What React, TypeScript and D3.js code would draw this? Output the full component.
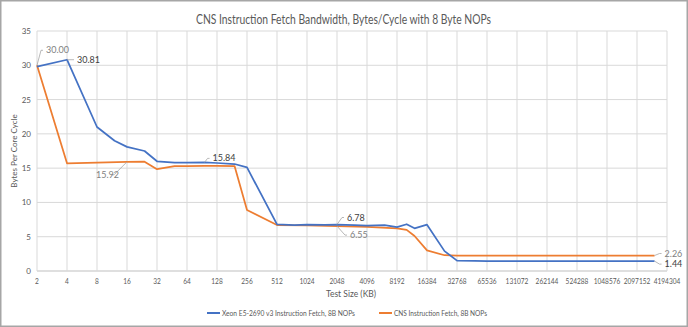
import React from "react";
import * as d3 from "d3";

const TITLE = "CNS Instruction Fetch Bandwidth, Bytes/Cycle with 8 Byte NOPs";
const X_TITLE = "Test Size (KB)";
const Y_TITLE = "Bytes Per Core Cycle";
const SERIES_NAMES = ["Xeon E5-2690 v3 Instruction Fetch, 8B NOPs", "CNS Instruction Fetch, 8B NOPs"];

const X_TICKS = [2, 4, 8, 16, 32, 64, 128, 256, 512, 1024, 2048, 4096, 8192, 16384, 32768, 65536, 131072, 262144, 524288, 1048576, 2097152, 4194304];
const Y_TICKS = [0, 5, 10, 15, 20, 25, 30, 35];

const XEON_X = [2, 4, 8, 12, 16, 24, 32, 48, 64, 96, 128, 192, 256, 512, 768, 1024, 1536, 2048, 3072, 4096, 6144, 8192, 10240, 12288, 16384, 24576, 32768, 49152, 65536, 131072, 262144, 524288, 1048576, 2097152, 3145728];
const XEON_Y = [29.8, 30.81, 21.0, 19.0, 18.1, 17.5, 16.0, 15.8, 15.8, 15.84, 15.75, 15.6, 15.1, 6.8, 6.7, 6.75, 6.72, 6.78, 6.7, 6.6, 6.68, 6.4, 6.82, 6.22, 6.75, 2.9, 1.52, 1.46, 1.44, 1.44, 1.44, 1.44, 1.44, 1.44, 1.44];

const CNS_X = [2, 4, 8, 16, 24, 32, 48, 64, 96, 128, 192, 256, 512, 1024, 2048, 4096, 8192, 10240, 12288, 16384, 24576, 32768, 65536, 131072, 262144, 524288, 1048576, 2097152, 3145728];
const CNS_Y = [30.0, 15.7, 15.82, 15.92, 15.95, 14.85, 15.3, 15.3, 15.32, 15.32, 15.3, 8.9, 6.7, 6.65, 6.55, 6.45, 6.22, 6.0, 5.1, 3.0, 2.3, 2.26, 2.26, 2.26, 2.26, 2.26, 2.26, 2.26, 2.26];

const W = 688, H = 327;
const M = { left: 37, right: 667, top: 31, bottom: 271 };
const BLUE = "#4472c4";
const ORANGE = "#ed7d31";
const FONT = "Lato, 'Open Sans', 'Liberation Sans', sans-serif";

export default function App() {
  const x = d3.scaleLog().base(2).domain([2, 4194304]).range([M.left, M.right]);
  const y = d3.scaleLinear().domain([0, 35]).range([M.bottom, M.top]);
  const line = d3.line<[number, number]>().x((d) => x(d[0])).y((d) => y(d[1]));
  const xeon = XEON_X.map((v, i) => [v, XEON_Y[i]] as [number, number]);
  const cns = CNS_X.map((v, i) => [v, CNS_Y[i]] as [number, number]);

  const labels = [
    { xv: 2, yv: 30.0, text: "30.00", dx: 9, dy: -15, color: "#7f7f7f" },
    { xv: 4, yv: 30.81, text: "30.81", dx: 10, dy: 0, color: "#404040" },
    { xv: 16, yv: 15.92, text: "15.92", dx: -19, dy: 13, color: "#7f7f7f" },
    { xv: 96, yv: 15.84, text: "15.84", dx: 8, dy: -4, color: "#404040" },
    { xv: 2048, yv: 6.78, text: "6.78", dx: 10, dy: -7, color: "#404040" },
    { xv: 2048, yv: 6.55, text: "6.55", dx: 13, dy: 9, color: "#7f7f7f" },
    { xv: 3145728, yv: 2.26, text: "2.26", dx: 10, dy: -2, color: "#7f7f7f" },
    { xv: 3145728, yv: 1.44, text: "1.44", dx: 10, dy: 3, color: "#404040" },
  ];

  return (
    <div style={{ position: "fixed", left: 0, top: 0 }}>
      <svg width={W} height={H} style={{ display: "block", background: "#fff" }}>
        <rect x={0.75} y={0.75} width={W - 1.5} height={H - 1.5} fill="#fff" stroke="#a6a6a6" strokeWidth={1.5} />
        <text x={343.5} y={24} textAnchor="middle" fontFamily={FONT} fontSize={13.5} fill="#595959" textLength={295} lengthAdjust="spacingAndGlyphs">{TITLE}</text>
        {Y_TICKS.map((t) => (
          <line key={"gy" + t} x1={M.left} x2={M.right} y1={y(t)} y2={y(t)} stroke={t === 0 ? "#bfbfbf" : "#d9d9d9"} strokeWidth={1} />
        ))}
        {X_TICKS.map((t) => (
          <line key={"gx" + t} x1={x(t)} x2={x(t)} y1={M.top} y2={M.bottom} stroke="#d9d9d9" strokeWidth={1} />
        ))}
        {Y_TICKS.map((t) => (
          <text key={"ty" + t} x={31} y={y(t) + 3} textAnchor="end" fontFamily={FONT} fontSize={8} fill="#595959">{t}</text>
        ))}
        {X_TICKS.map((t) => (
          <text key={"tx" + t} x={x(t)} y={283.5} textAnchor="middle" fontFamily={FONT} fontSize={7.5} fill="#595959" textLength={String(t).length * 3.8} lengthAdjust="spacingAndGlyphs">{t}</text>
        ))}
        <text x={351} y={297} textAnchor="middle" fontFamily={FONT} fontSize={8.5} fill="#595959">{X_TITLE}</text>
        <text transform="translate(17,151) rotate(-90)" textAnchor="middle" fontFamily={FONT} fontSize={8} fill="#595959">{Y_TITLE}</text>
        <path d={line(cns) || ""} fill="none" stroke={ORANGE} strokeWidth={1.75} strokeLinejoin="round" />
        <path d={line(xeon) || ""} fill="none" stroke={BLUE} strokeWidth={1.75} strokeLinejoin="round" />
        {labels.map((l, i) => {
          const px = x(l.xv), py = y(l.yv);
          const tx = px + l.dx, ty = py + l.dy;
          const left = l.dx < 0;
          const elbowX = left ? tx + 4 : tx - 3;
          return (
            <g key={"lb" + i}>
              <path d={`M${px},${py}L${elbowX - (left ? -2 : 2)},${ty}L${elbowX},${ty}`} fill="none" stroke="#a6a6a6" strokeWidth={0.8} />
              <text x={left ? tx - 12 : tx} y={ty + 3} textAnchor="start" fontFamily={FONT} fontSize={9} fill={l.color}>{l.text}</text>
            </g>
          );
        })}
        <line x1={207} x2={220} y1={313} y2={313} stroke={BLUE} strokeWidth={2} />
        <text x={222} y={316} fontFamily={FONT} fontSize={8} fill="#595959" textLength={133} lengthAdjust="spacingAndGlyphs">{SERIES_NAMES[0]}</text>
        <line x1={379} x2={392} y1={313} y2={313} stroke={ORANGE} strokeWidth={2} />
        <text x={394} y={316} fontFamily={FONT} fontSize={8} fill="#595959" textLength={93} lengthAdjust="spacingAndGlyphs">{SERIES_NAMES[1]}</text>
      </svg>
    </div>
  );
}
